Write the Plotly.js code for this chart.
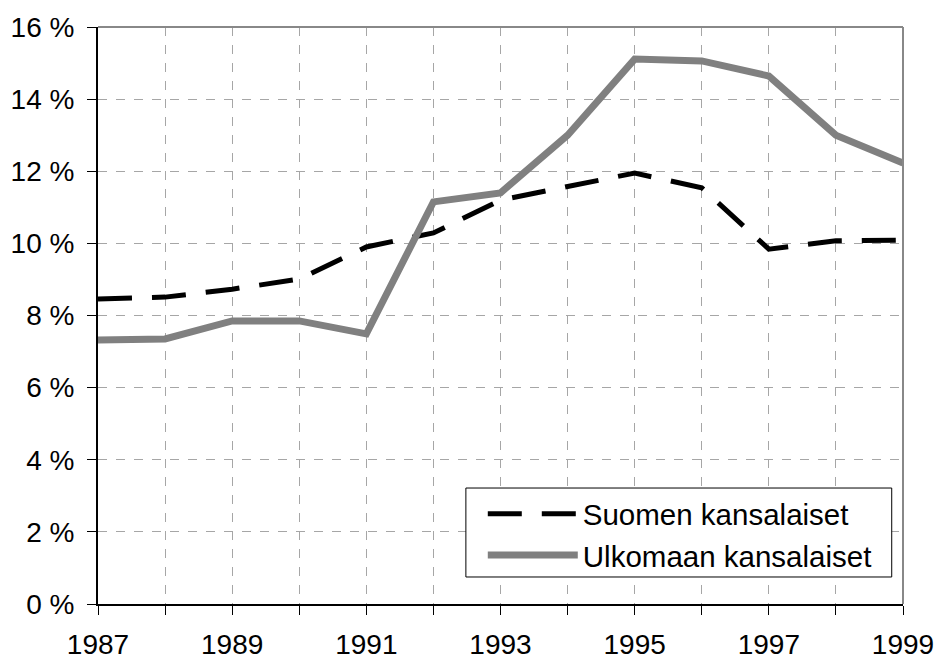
<!DOCTYPE html>
<html><head><meta charset="utf-8">
<script src="https://cdn.plot.ly/plotly-3.0.1.min.js"></script>
<style>html,body{margin:0;padding:0;background:#fff}#chart{width:938px;height:659px}</style>
</head><body><div id="chart"></div>
<script>
const years = [1987,1988,1989,1990,1991,1992,1993,1994,1995,1996,1997,1998,1999];
const suomen = [8.46,8.51,8.73,9.01,9.90,10.29,11.20,11.59,11.95,11.54,9.84,10.07,10.09];
const ulkomaan = [7.32,7.35,7.85,7.85,7.49,11.15,11.40,13.00,15.11,15.06,14.64,13.00,12.23];
const seriesNames = ["Suomen kansalaiset","Ulkomaan kansalaiset"];
const yTicks = [0,2,4,6,8,10,12,14,16];
const yTickLabels = ["0 %","2 %","4 %","6 %","8 %","10 %","12 %","14 %","16 %"];
const xTicks = [1987,1989,1991,1993,1995,1997,1999];
const xMinorTicks = [1988,1990,1992,1994,1996,1998];

const font = "Liberation Sans, Arial, sans-serif";
const traces = [
  {x: years, y: suomen, name: seriesNames[0], type: "scatter", mode: "lines",
   line: {color: "#000", width: 5, dash: "34px,20px"}},
  {x: years, y: ulkomaan, name: seriesNames[1], type: "scatter", mode: "lines",
   line: {color: "#808080", width: 7}}
];
const layout = {
  width: 938, height: 659,
  margin: {l: 98, r: 35, t: 27, b: 55},
  paper_bgcolor: "#fff", plot_bgcolor: "#fff",
  font: {family: font, size: 28, color: "#000"},
  showlegend: true,
  legend: {x: 0.478, y: 0.201, xanchor: "left", yanchor: "top",
    borderwidth: 0, bgcolor: "rgba(0,0,0,0)",
    font: {family: font, size: 29.5, color: "#000"}, itemwidth: 90,
    tracegroupgap: 0},
  xaxis: {range: [1987, 1999], tickvals: xTicks, ticktext: xTicks.map(String),
    showgrid: true, gridcolor: "#a6a6a6", griddash: "dash", gridwidth: 1,
    ticks: "outside", ticklen: 9, tickcolor: "#000", tickwidth: 1,
    showline: true, linecolor: "#000", linewidth: 2, zeroline: false,
    ticklabelstandoff: 5,
    minor: {tickvals: xMinorTicks, ticks: "outside", ticklen: 9, tickcolor: "#000",
      showgrid: true, gridcolor: "#a6a6a6", griddash: "dash"}},
  yaxis: {range: [0, 16], tickvals: yTicks, ticktext: yTickLabels,
    showgrid: true, gridcolor: "#a6a6a6", griddash: "dash", gridwidth: 1,
    ticks: "outside", ticklen: 9, tickcolor: "#000", tickwidth: 1,
    showline: true, linecolor: "#000", linewidth: 2, zeroline: false,
    ticklabelstandoff: 7},
  shapes: [
    {type: "line", xref: "paper", yref: "paper", x0: 0, x1: 1, y0: 1, y1: 1, line: {color: "#888", width: 2}},
    {type: "line", xref: "paper", yref: "paper", x0: 1, x1: 1, y0: 0, y1: 1, line: {color: "#888", width: 2}},
    {type: "rect", xref: "paper", yref: "paper", x0: 0.457, x1: 0.986, y0: 0.0468, y1: 0.201,
     fillcolor: "#fff", line: {color: "#000", width: 1}, layer: "above"}
  ]
};
Plotly.newPlot("chart", traces, layout, {displayModeBar: false, staticPlot: true});
</script></body></html>
